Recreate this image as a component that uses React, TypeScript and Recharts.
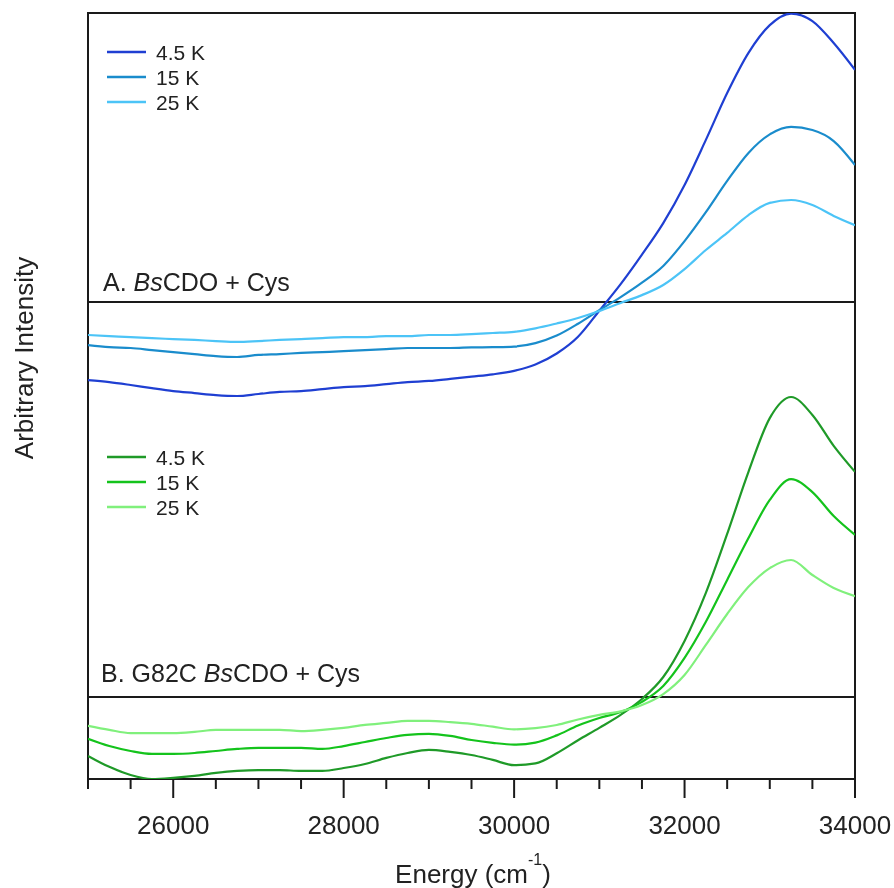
import React from "react";
import {
  ComposedChart,
  Line,
  XAxis,
  YAxis,
  ReferenceLine,
  ReferenceArea,
} from "recharts";

// Photon energy grid (cm^-1)
const energy = [
  25000, 25250, 25500, 25750, 26000, 26250, 26500, 26750, 27000, 27250,
  27500, 27750, 28000, 28250, 28500, 28750, 29000, 29250, 29500, 29750,
  30000, 30250, 30500, 30750, 31000, 31250, 31500, 31750, 32000, 32250,
  32500, 32750, 33000, 33250, 33500, 33750, 34000,
];

// Axis ticks: minor every 500, labelled every 2000
const energyTicks = [
  25000, 25500, 26000, 26500, 27000, 27500, 28000, 28500, 29000, 29500,
  30000, 30500, 31000, 31500, 32000, 32500, 33000, 33500, 34000,
];

// A. BsCDO + Cys
const wt45K = [
  -2.7, -2.77, -2.87, -2.98, -3.08, -3.15, -3.22, -3.25, -3.18, -3.11,
  -3.08, -3.01, -2.94, -2.91, -2.84, -2.77, -2.73, -2.66, -2.58, -2.5,
  -2.38, -2.16, -1.78, -1.2, -0.3, 0.62, 1.64, 2.73, 4.05, 5.61,
  7.23, 8.62, 9.58, 9.98, 9.72, 8.96, 8.03,
];
const wt15K = [
  -1.49, -1.56, -1.59, -1.66, -1.73, -1.8, -1.87, -1.9, -1.83, -1.8,
  -1.76, -1.73, -1.7, -1.66, -1.63, -1.59, -1.59, -1.59, -1.57, -1.56,
  -1.54, -1.42, -1.16, -0.75, -0.28, 0.17, 0.67, 1.25, 2.11, 3.11,
  4.19, 5.16, 5.8, 6.06, 5.95, 5.57, 4.74,
];
const wt25K = [
  -1.14, -1.18, -1.21, -1.25, -1.28, -1.31, -1.35, -1.38, -1.35, -1.31,
  -1.28, -1.25, -1.21, -1.21, -1.18, -1.18, -1.14, -1.14, -1.11, -1.07,
  -1.03, -0.91, -0.74, -0.55, -0.31, -0.03, 0.24, 0.59, 1.14, 1.8,
  2.39, 3.01, 3.43, 3.53, 3.36, 2.98, 2.66,
];

// B. G82C BsCDO + Cys
const g82c45K = [
  -2.04, -2.42, -2.7, -2.84, -2.8, -2.73, -2.63, -2.56, -2.53, -2.53,
  -2.56, -2.56, -2.46, -2.32, -2.11, -1.94, -1.83, -1.9, -2.01, -2.18,
  -2.36, -2.3, -1.95, -1.5, -1.07, -0.62, -0.07, 0.69, 1.94, 3.6,
  5.64, 7.79, 9.65, 10.38, 9.76, 8.69, 7.79,
];
const g82c15K = [
  -1.45, -1.7, -1.87, -1.97, -1.97, -1.94, -1.87, -1.8, -1.76, -1.76,
  -1.76, -1.8, -1.7, -1.56, -1.42, -1.31, -1.28, -1.35, -1.49, -1.59,
  -1.65, -1.58, -1.33, -0.99, -0.73, -0.52, -0.17, 0.38, 1.35, 2.6,
  4.05, 5.5, 6.82, 7.54, 7.09, 6.26, 5.61,
];
const g82c25K = [
  -1.0, -1.14, -1.25, -1.25, -1.25, -1.21, -1.14, -1.14, -1.14, -1.14,
  -1.18, -1.14, -1.07, -0.97, -0.9, -0.83, -0.83, -0.87, -0.93, -1.03,
  -1.12, -1.08, -0.97, -0.78, -0.62, -0.5, -0.28, 0.1, 0.76, 1.8,
  2.87, 3.81, 4.46, 4.74, 4.22, 3.77, 3.49,
];

const temperatures = ["4.5 K", "15 K", "25 K"];

const panelA = [
  { key: "a45", values: wt45K, color: "#1f3fd2" },
  { key: "a15", values: wt15K, color: "#1a8ccc" },
  { key: "a25", values: wt25K, color: "#4cc4f7" },
];
const panelB = [
  { key: "b45", values: g82c45K, color: "#1f9a28" },
  { key: "b15", values: g82c15K, color: "#14c31c" },
  { key: "b25", values: g82c25K, color: "#80f07c" },
];

// Each panel has its own offset scale so that both share one frame
const domainA: [number, number] = [-16.5, 10];
const domainB: [number, number] = [-2.84, 23.67];

const rows = energy.map((e, i) => {
  const row: Record<string, number> = { energy: e };
  [...panelA, ...panelB].forEach((s) => {
    row[s.key] = s.values[i];
  });
  return row;
});

const FONT = '"Liberation Sans", Arial, Helvetica, sans-serif';
const INK = "#1a1a1a";

const EnergyTick = (props: any) => {
  const { x, y, payload } = props;
  const major = payload.value % 2000 === 0;
  return (
    <g>
      <line
        x1={x}
        y1={y}
        x2={x}
        y2={y + (major ? 19 : 10)}
        stroke={INK}
        strokeWidth={2}
      />
      {major && (
        <text
          x={x}
          y={y + 55}
          textAnchor="middle"
          fontSize={26}
          fontFamily={FONT}
          fill="#222"
        >
          {payload.value}
        </text>
      )}
    </g>
  );
};

const LegendBlock = ({
  series,
  top,
}: {
  series: { key: string; color: string }[];
  top: number;
}) => (
  <g>
    {series.map((s, i) => {
      const cy = top + i * 25;
      return (
        <g key={s.key}>
          <line x1={99} x2={138} y1={cy} y2={cy} stroke={s.color} strokeWidth={2.5} />
          <text x={148} y={cy + 7.5} fontSize={21} fontFamily={FONT} fill="#222">
            {temperatures[i]}
          </text>
        </g>
      );
    })}
  </g>
);

export default function App() {
  const W = 886;
  const H = 880;
  return (
    <div
      style={{
        position: "fixed",
        left: 8,
        top: 8,
        width: W,
        height: H,
        fontFamily: FONT,
      }}
    >
      <style>{`.recharts-surface{overflow:visible}`}</style>
      <ComposedChart
        width={W}
        height={H}
        data={rows}
        margin={{ top: 5, right: 39, left: 80, bottom: 49 }}
      >
        <XAxis
          dataKey="energy"
          type="number"
          domain={[25000, 34000]}
          ticks={energyTicks}
          interval={0}
          tick={(p: any) => <EnergyTick {...p} />}
          tickLine={false}
          axisLine={false}
          tickSize={0}
          tickMargin={0}
          height={60}
          allowDataOverflow
        />
        <YAxis yAxisId="a" type="number" domain={domainA} hide allowDataOverflow />
        <YAxis yAxisId="b" type="number" domain={domainB} hide allowDataOverflow />

        <ReferenceLine yAxisId="a" y={0} stroke={INK} strokeWidth={2} />
        <ReferenceLine yAxisId="b" y={0} stroke={INK} strokeWidth={2} />

        {panelA.map((s) => (
          <Line
            key={s.key}
            yAxisId="a"
            dataKey={s.key}
            type="monotone"
            stroke={s.color}
            strokeWidth={2.2}
            dot={false}
            activeDot={false}
            isAnimationActive={false}
          />
        ))}
        {panelB.map((s) => (
          <Line
            key={s.key}
            yAxisId="b"
            dataKey={s.key}
            type="monotone"
            stroke={s.color}
            strokeWidth={2.2}
            dot={false}
            activeDot={false}
            isAnimationActive={false}
          />
        ))}

        <ReferenceArea
          yAxisId="a"
          x1={25000}
          x2={34000}
          y1={domainA[0]}
          y2={domainA[1]}
          fill="none"
          fillOpacity={0}
          stroke={INK}
          strokeWidth={2}
        />
      </ComposedChart>

      <svg
        width={W}
        height={H}
        style={{ position: "absolute", left: 0, top: 0, pointerEvents: "none", overflow: "visible" }}
      >
        <LegendBlock series={panelA} top={44} />
        <LegendBlock series={panelB} top={449} />

        <text x={95} y={283} fontSize={25} fontFamily={FONT} fill="#222">
          A. <tspan fontStyle="italic">Bs</tspan>CDO + Cys
        </text>
        <text x={93} y={674} fontSize={25} fontFamily={FONT} fill="#222">
          B. G82C <tspan fontStyle="italic">Bs</tspan>CDO + Cys
        </text>

        <text
          x={25}
          y={350}
          transform="rotate(-90 25 350)"
          textAnchor="middle"
          fontSize={26}
          fontFamily={FONT}
          fill="#222"
        >
          Arbitrary Intensity
        </text>

        <text x={465} y={875} textAnchor="middle" fontSize={26} fontFamily={FONT} fill="#222">
          Energy (cm
          <tspan fontSize={16} dy={-18}>
            -1
          </tspan>
          <tspan dy={18}>)</tspan>
        </text>
      </svg>
    </div>
  );
}
